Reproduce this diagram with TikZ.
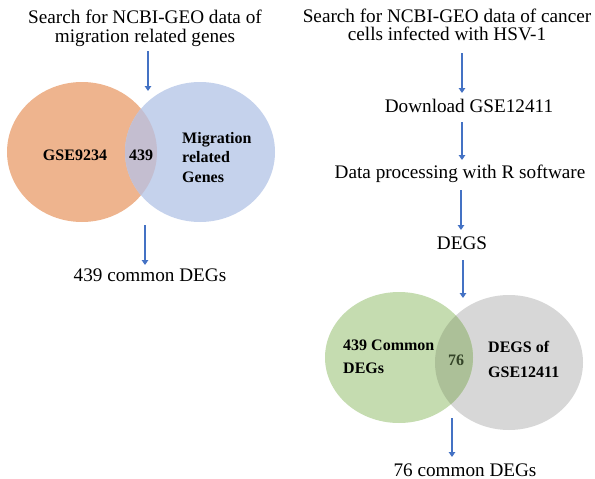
\documentclass[tikz,border=0pt]{standalone}
\usepackage{fontspec}
\setmainfont{Liberation Serif}
\usetikzlibrary{shapes.geometric,arrows.meta}
\definecolor{arrblue}{RGB}{68,114,196}
\definecolor{orangef}{RGB}{238,180,142}
\definecolor{bluef}{RGB}{197,210,236}
\definecolor{lapf}{RGB}{196,190,208}
\definecolor{greenf}{RGB}{197,220,176}
\definecolor{grayf}{RGB}{215,215,215}
\definecolor{lapg}{RGB}{172,192,152}
\definecolor{oliv}{RGB}{52,68,40}
\tikzset{
  lbl/.style={font=\fontsize{19.2}{18.7}\selectfont, align=center, inner sep=0pt, anchor=base},
  blbl/.style={font=\fontsize{16}{19.5}\selectfont\bfseries, align=left, inner sep=0pt, anchor=base},
  arr/.style={draw=arrblue, line width=2.5pt, -{Triangle[length=5pt,width=6.5pt]}},
  venn/.style={ellipse, draw=none, inner sep=0pt}
}
\begin{document}
\begin{tikzpicture}[x=1pt,y=-1pt]
\useasboundingbox (0,0) rectangle (595,479);
% left branch
\node[lbl] (s1) at (145,42.5) {Search for NCBI-GEO data of\\migration related genes};
\node[venn, fill=orangef, minimum width=150, minimum height=140] (gse) at (82,152) {};
\node[venn, fill=bluef, minimum width=150, minimum height=140] (mig) at (200,152) {};
\begin{scope}
  \clip (82,152) ellipse [x radius=75, y radius=70];
  \fill[lapf] (200,152) ellipse [x radius=75, y radius=70];
\end{scope}
\node[blbl] (gsel) at (75,160) {GSE9234};
\node[blbl] (l439) at (141,160) {439};
\node[blbl, anchor=base west] (migl) at (182,182) {Migration\\related\\Genes};
\coordinate (a1s) at (148,51);
\coordinate (a1e) at (148,91);
\coordinate (a2s) at (145,225);
\coordinate (a2e) at (145,265);
\node[lbl] (c439) at (150,281) {439 common DEGs};
\draw[arr] (a1s) -- (a1e);
\draw[arr] (a2s) -- (a2e);
% right branch
\node[lbl] (s2) at (447,41) {Search for NCBI-GEO data of cancer\\cells infected with HSV-1};
\node[lbl] (dl) at (469,112) {Download GSE12411};
\node[lbl] (dp) at (460,178) {Data processing with R software};
\node[lbl] (degs) at (462,249) {DEGS};
\node[venn, fill=grayf, minimum width=148, minimum height=135] (dg) at (509,362.5) {};
\node[venn, fill=greenf, minimum width=148, minimum height=131] (cd) at (399,357.5) {};
\begin{scope}
  \clip (399,357.5) ellipse [x radius=74, y radius=65.5];
  \fill[lapg] (509,362.5) ellipse [x radius=74, y radius=67.5];
\end{scope}
\node[blbl, anchor=base west, font=\fontsize{16}{23}\selectfont\bfseries] (cdl) at (343,373) {439 Common\\DEGs};
\node[blbl, text=oliv] (r76) at (456,365) {76};
\node[blbl, anchor=base west, font=\fontsize{16}{25}\selectfont\bfseries] (dgl) at (488,377) {DEGS of\\GSE12411};
\node[lbl] (c76) at (465,476) {76 common DEGs};
\coordinate (r1s) at (462,53);  \coordinate (r1e) at (462,93);
\coordinate (r2s) at (462,122); \coordinate (r2e) at (462,160);
\coordinate (r3s) at (461,190); \coordinate (r3e) at (461,230);
\coordinate (r4s) at (463,260); \coordinate (r4e) at (463,298);
\coordinate (r5s) at (452,418); \coordinate (r5e) at (452,457);
\draw[arr] (r1s) -- (r1e);
\draw[arr] (r2s) -- (r2e);
\draw[arr] (r3s) -- (r3e);
\draw[arr] (r4s) -- (r4e);
\draw[arr] (r5s) -- (r5e);
\end{tikzpicture}
\end{document}
